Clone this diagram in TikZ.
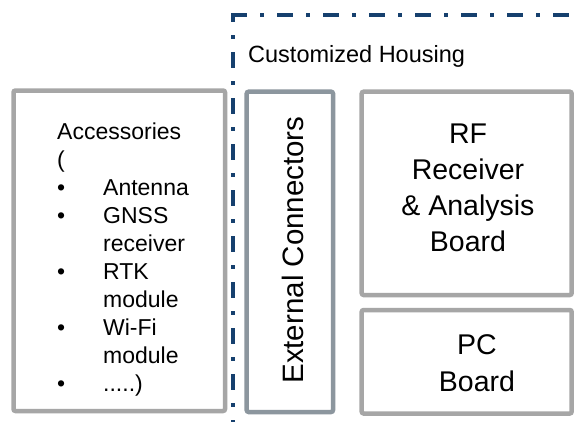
\documentclass[tikz,border=0pt]{standalone}
\usepackage{fontspec}
\setmainfont{Liberation Sans}
\definecolor{housingblue}{RGB}{22,64,110}
\definecolor{boxgray}{RGB}{166,166,166}
\definecolor{extgray}{RGB}{140,150,158}
\begin{document}
\begin{tikzpicture}[x=1pt,y=-1pt,
  blockbox/.style={draw=boxgray, line width=4.5pt, rounded corners=2pt, inner sep=0pt, outer sep=0pt, rectangle},
  housingline/.style={draw=housingblue, line width=4.2pt, dash pattern=on 16pt off 13pt on 4pt off 13pt},
  bigtext/.style={inner sep=0pt, font=\fontsize{28.5}{36}\selectfont, align=center},
  smalltext/.style={inner sep=0pt, font=\fontsize{23}{28}\selectfont}
]
\useasboundingbox (0,0) rectangle (581,421);
\fill[white] (0,0) rectangle (581,421);

% housing outline
\coordinate (hcorner) at (233,15);
\coordinate (hright) at (600,15);
\coordinate (hbottom) at (233,430);
\draw[housingline] ([xshift=-2pt]hcorner) -- (hright);
\draw[housingline, dash phase=11pt] ([yshift=-2pt]hcorner) -- (hbottom);
\node[inner sep=0pt, font=\fontsize{23.5}{28}\selectfont, anchor=base west] (hlabel) at (248,62) {Customized Housing};

% boxes
\node[blockbox, minimum width=211.5pt, minimum height=320.5pt] (acc) at (119.25,250.75) {};
\node[blockbox, draw=extgray, minimum width=86.3pt, minimum height=320.3pt] (ext) at (289.85,251.85) {};
\node[blockbox, minimum width=210pt, minimum height=203.3pt] (rf) at (466.7,193.35) {};
\node[blockbox, minimum width=210pt, minimum height=103.5pt] (pc) at (466.7,361.75) {};

% texts
\node[smalltext, anchor=north west, align=left] (acctext) at (57,122.5) {%
Accessories\\
(\\
\makebox[46pt][l]{•}Antenna\\
\makebox[46pt][l]{•}GNSS\\
\hspace*{46pt}receiver\\
\makebox[46pt][l]{•}RTK\\
\hspace*{46pt}module\\
\makebox[46pt][l]{•}Wi-Fi\\
\hspace*{46pt}module\\
\makebox[46pt][l]{•}.....)};

\node[inner sep=0pt, font=\fontsize{29.5}{36}\selectfont, rotate=90, anchor=base] (exttext) at (303,250) {External Connectors};

\node[bigtext] (rftext) at (468,188) {RF\\Receiver\\\& Analysis\\Board};
\node[bigtext, font=\fontsize{28.5}{37}\selectfont] (pctext) at (477,363) {PC\\Board};
\end{tikzpicture}
\end{document}
